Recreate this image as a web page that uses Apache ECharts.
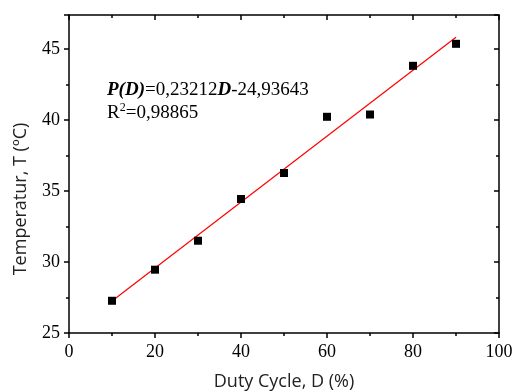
<!DOCTYPE html>
<html><head><meta charset="utf-8">
<script src="https://cdn.jsdelivr.net/npm/echarts@6/dist/echarts.min.js"></script>
<style>html,body{margin:0;padding:0;background:#fff}#c{width:513px;height:392px}</style>
</head><body><div id="c"></div>
<script>
var dutyCycle = [10, 20, 30, 40, 50, 60, 70, 80, 90];
var temperature = [27.27, 29.46, 31.5, 34.44, 36.27, 40.23, 40.39, 43.82, 45.37];
var fitX = [10, 90];
var fitY = [27.26, 45.83];
var xTitle = 'Duty Cycle, D (%)';
var yTitle = 'Temperatur, T (\u00baC)';

var chart = echarts.init(document.getElementById('c'));
var serif = "'Liberation Serif', 'Times New Roman', serif";
var sans = "'Open Sans', sans-serif";
function axisBase(o){
  return Object.assign({
    axisLine:{show:true,onZero:false,lineStyle:{color:'#000',width:1.5}},
    splitLine:{show:false}
  }, o);
}
chart.setOption({
  animation:false,
  grid:{left:69,right:14,top:15,bottom:59,outerBoundsMode:'none',containLabel:false},
  xAxis:[
    axisBase({type:'value',min:0,max:100,interval:20,position:'bottom',
      name:xTitle,nameLocation:'middle',nameGap:40,
      nameTextStyle:{fontFamily:sans,fontSize:18,color:'#222'},
      axisTick:{show:true,length:5,inside:false,lineStyle:{color:'#000',width:1.5}},
      minorTick:{show:true,splitNumber:2,length:3,lineStyle:{color:'#000',width:1.5}},
      axisLabel:{fontFamily:serif,fontSize:18,color:'#000',margin:10}}),
    axisBase({type:'value',min:0,max:100,interval:20,position:'top',
      axisTick:{show:true,length:5,inside:true,lineStyle:{color:'#000',width:1.5}},
      minorTick:{show:true,splitNumber:2,length:3,lineStyle:{color:'#000',width:1.5}},
      axisLabel:{show:false}})
  ],
  yAxis:[
    axisBase({type:'value',min:25,max:47.4,interval:5,position:'left',
      name:yTitle,nameLocation:'middle',nameGap:39,
      nameTextStyle:{fontFamily:sans,fontSize:18,color:'#222',padding:[0,50,0,0]},
      axisTick:{show:true,length:5,inside:false,lineStyle:{color:'#000',width:1.5}},
      minorTick:{show:true,splitNumber:2,length:3,lineStyle:{color:'#000',width:1.5}},
      axisLabel:{fontFamily:serif,fontSize:18,color:'#000',margin:9,
        formatter:function(v){return v%5===0?v:'';}}}),
    axisBase({type:'value',min:25,max:47.4,interval:5,position:'right',
      axisTick:{show:true,length:5,inside:true,lineStyle:{color:'#000',width:1.5}},
      minorTick:{show:true,splitNumber:2,length:3,lineStyle:{color:'#000',width:1.5}},
      axisLabel:{show:false}})
  ],
  series:[
    {type:'line',data:fitX.map(function(x,i){return [x,fitY[i]];}),
      symbol:'none',lineStyle:{color:'#ff0000',width:1.2},z:2},
    {type:'scatter',data:dutyCycle.map(function(x,i){return [x,temperature[i]];}),
      symbol:'rect',symbolSize:8,itemStyle:{color:'#000',opacity:1},z:3}
  ],
  graphic:[
    {type:'text',left:107,top:81,style:{
      text:'{bi|P(D)}{n|=0,23212}{bi|D}{n|-24,93643}',
      rich:{
        bi:{fontFamily:serif,fontSize:19,fontWeight:'bold',fontStyle:'italic',fill:'#000'},
        n:{fontFamily:serif,fontSize:19,fill:'#000'}
      }}},
    {type:'text',left:107,top:102,style:{
      text:'{n|R}{sup|2}{n|=0,98865}',
      rich:{
        n:{fontFamily:serif,fontSize:19,fill:'#000',verticalAlign:'bottom'},
        sup:{fontFamily:serif,fontSize:12,fill:'#000',verticalAlign:'top',padding:[0,0,9,0]}
      }}}
  ]
});
</script></body></html>
